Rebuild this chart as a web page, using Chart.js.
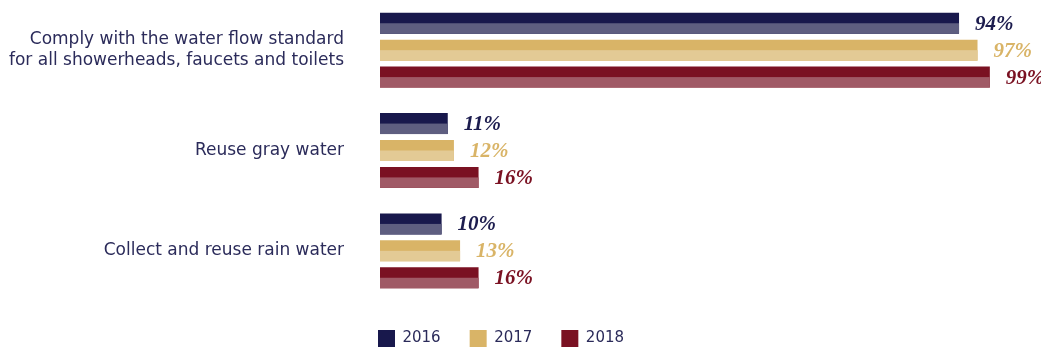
<!doctype html>
<meta charset="utf-8">
<script src="https://cdn.jsdelivr.net/npm/chart.js@4.4.8/dist/chart.umd.min.js"></script>
<style>
    body { margin: 0; background: #fff; }
    #wrap { width: 1041px; height: 350px; }
</style>
<div id="wrap"><canvas id="chart"></canvas></div>
<script>
    const categories = [
        ["Comply with the water flow standard", "for all showerheads, faucets and toilets"],
        "Reuse gray water",
        "Collect and reuse rain water"
    ];
    const years = ["2016", "2017", "2018"];
    const values2016 = [94, 11, 10];
    const values2017 = [97, 12, 13];
    const values2018 = [99, 16, 16];

    const dark = ["#18184c", "#d9b467", "#7a1122"];
    const light = ["#5e5e80", "#e3ca95", "#a05a66"];
    const labelColor = ["#1c1c4e", "#d9b467", "#7a1122"];
    const ink = "#2b2b5a";

    // bottom half of every bar in a lighter tone, plus the value labels
    const twoTone = {
        id: "twoTone",
        afterDatasetsDraw(chart) {
            const ctx = chart.ctx;
            chart.data.datasets.forEach((ds, i) => {
                chart.getDatasetMeta(i).data.forEach((bar, j) => {
                    ctx.fillStyle = light[i];
                    ctx.fillRect(bar.base, bar.y, bar.x - bar.base, bar.height / 2);
                    ctx.font = "italic bold 21px 'Liberation Serif'";
                    ctx.fillStyle = labelColor[i];
                    ctx.textAlign = "left";
                    ctx.textBaseline = "middle";
                    ctx.fillText(ds.data[j] + "%", bar.x + 16, bar.y + 1);
                });
            });
        }
    };

    new Chart(document.getElementById("chart"), {
        type: "bar",
        data: {
            labels: categories,
            datasets: [values2016, values2017, values2018].map((d, i) => ({
                label: years[i],
                data: d,
                backgroundColor: dark[i],
                borderWidth: 0,
                categoryPercentage: 0.805,
                barPercentage: 0.78
            }))
        },
        options: {
            indexAxis: "y",
            responsive: true,
            maintainAspectRatio: false,
            animation: false,
            layout: { padding: { left: 6, right: 45, top: -2, bottom: -7 } },
            scales: {
                x: {
                    min: 0, max: 100,
                    display: false
                },
                y: {
                    grid: { display: false },
                    border: { display: false },
                    afterFit(scale) {
                        scale.width = 374;
                        scale.paddingTop = 0;
                        scale.paddingBottom = 0;
                    },
                    ticks: {
                        color: ink,
                        padding: 28,
                        font: { family: "DejaVu Sans", size: 17, lineHeight: 1.2 }
                    }
                }
            },
            plugins: {
                tooltip: { enabled: false },
                legend: {
                    position: "bottom",
                    labels: {
                        color: ink,
                        boxWidth: 17,
                        boxHeight: 17,
                        padding: 29,
                        font: { family: "DejaVu Sans", size: 15 }
                    }
                }
            }
        },
        plugins: [twoTone]
    });
</script>
